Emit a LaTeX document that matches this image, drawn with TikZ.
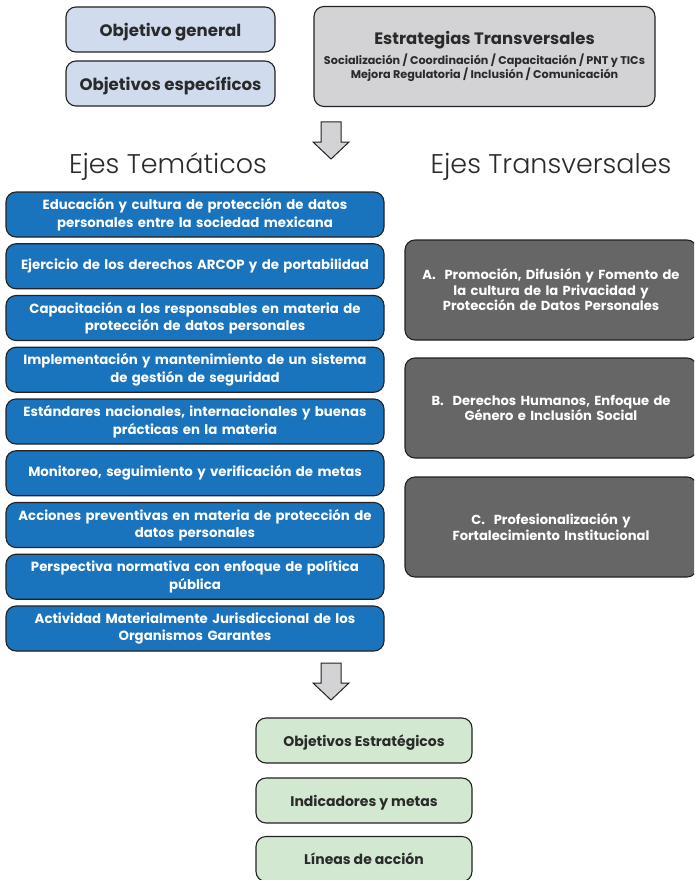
\documentclass[tikz,border=0pt]{standalone}
\usepackage{fontspec}
\setmainfont{Poppins}[BoldFont={Poppins Bold}]
\newfontfamily\lightfont{Poppins Light}
\definecolor{lblue}{HTML}{D0DCEE}
\definecolor{lgray}{HTML}{D3D3D5}
\definecolor{mblue}{HTML}{1A73BD}
\definecolor{dgray}{HTML}{666666}
\definecolor{lgreen}{HTML}{D2E8D0}
\definecolor{edge}{HTML}{222222}
\definecolor{txt}{HTML}{2A2A2A}
\tikzset{
  rbox/.style={draw=edge, line width=1.1pt, rounded corners=10pt, align=center, inner sep=2pt, font=\bfseries},
  topbox/.style={rbox, fill=lblue, minimum width=209pt, minimum height=45pt, text depth=0pt, text=txt, font=\bfseries\fontsize{16.6}{18}\selectfont},
  bluebox/.style={rbox, fill=mblue, minimum width=378pt, minimum height=45pt, text=white, text width=374pt, font=\bfseries\fontsize{13.3}{17.5}\selectfont},
  graybox/.style={rbox, fill=dgray, minimum width=292pt, minimum height=100pt, text=white, text width=288pt, font=\bfseries\fontsize{13.1}{15.5}\selectfont},
  greenbox/.style={rbox, fill=lgreen, minimum width=216pt, minimum height=45pt, text depth=0pt, text=txt, font=\bfseries\fontsize{14}{15}\selectfont},
  heading/.style={text=txt, font=\lightfont\fontsize{27}{30}\selectfont},
  blockarrow/.style={draw=edge, line width=1pt, fill=lgray, line join=miter},
}
\begin{document}
\begin{tikzpicture}[x=1pt,y=-1pt]
\clip (0,0) rectangle (694,880);
\fill[white] (0,0) rectangle (694,880);
% top
\node[topbox] (og) at (170.5,29.5) {Objetivo general};
\node[topbox] (oe) at (170.5,83.5) {Objetivos específicos};
\node[rbox, fill=lgray, minimum width=341pt, minimum height=100pt, text=txt] (et) at (484.5,56.5)
  {{\fontsize{16.5}{19}\selectfont Estrategias Transversales}\\[4pt]
   {\fontsize{11.2}{16}\selectfont Socialización / Coordinación / Capacitación / PNT y TICs}\\
   {\fontsize{11.2}{16}\selectfont Mejora Regulatoria / Inclusión / Comunicación}};
% arrow 1
\draw[blockarrow] (321,122) -- (341,122) -- (341,142) -- (349,142) -- (331,159) -- (313,142) -- (321,142) -- cycle;
% headings
\node[heading] (h1) at (168,167) {Ejes Temáticos};
\node[heading] (h2) at (551,167) {Ejes Transversales};
% blue boxes
\node[bluebox] (b1) at (195,214.5) {Educación y cultura de protección de datos\\personales entre la sociedad mexicana};
\node[bluebox] (b2) at (195,266.25) {Ejercicio de los derechos ARCOP y de portabilidad};
\node[bluebox] (b3) at (195,318) {Capacitación a los responsables en materia de\\protección de datos personales};
\node[bluebox] (b4) at (195,369.75) {Implementación y mantenimiento de un sistema\\de gestión de seguridad};
\node[bluebox] (b5) at (195,421.5) {Estándares nacionales, internacionales y buenas\\prácticas en la materia};
\node[bluebox] (b6) at (195,473.25) {Monitoreo, seguimiento y verificación de metas};
\node[bluebox] (b7) at (195,525) {Acciones preventivas en materia de protección de\\datos personales};
\node[bluebox] (b8) at (195,576.75) {Perspectiva normativa con enfoque de política\\pública};
\node[bluebox] (b9) at (195,628.5) {Actividad Materialmente Jurisdiccional de los\\Organismos Garantes};
% gray boxes
\node[graybox] (ga) at (551,290) {A.\ \ Promoción, Difusión y Fomento de\\la cultura de la Privacidad y\\Protección de Datos Personales};
\node[graybox] (gb) at (551,408) {B.\ \ Derechos Humanos, Enfoque de\\Género e Inclusión Social};
\node[graybox] (gc) at (551,527) {C.\ \ Profesionalización y\\Fortalecimiento Institucional};
% arrow 2
\draw[blockarrow] (321,663) -- (341,663) -- (341,683) -- (349,683) -- (331,700) -- (313,683) -- (321,683) -- cycle;
% green boxes
\node[greenbox] (g1) at (364,740.5) {Objetivos Estratégicos};
\node[greenbox] (g2) at (364,800.5) {Indicadores y metas};
\node[greenbox] (g3) at (364,859) {Líneas de acción};
\end{tikzpicture}
\end{document}
